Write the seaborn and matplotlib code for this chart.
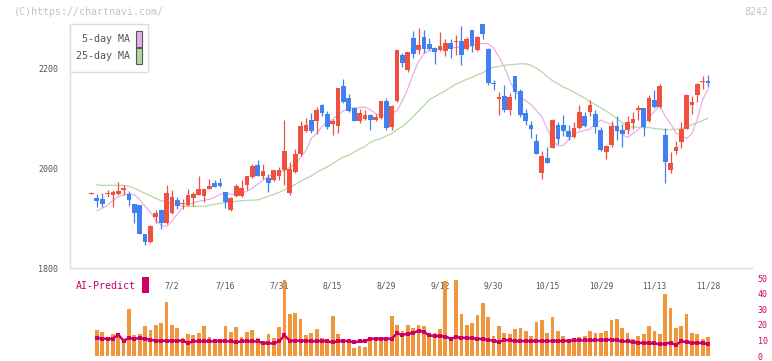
import matplotlib
matplotlib.use("Agg")
import matplotlib.pyplot as plt
from matplotlib.patches import Rectangle
import numpy as np
import seaborn as sns

# daily OHLC, index 0 = first day on screen, 115 = 11/28
opens = [1949, 1940, 1938, 1948, 1946, 1949, 1957, 1948, 1928, 1926,
         1868, 1852, 1903, 1917, 1890, 1911, 1936, 1928, 1926, 1941,
         1947, 1945, 1959, 1970, 1970, 1952, 1917, 1944, 1944, 1967,
         1983, 2006, 1985, 1981, 1976, 1984, 1996, 1950, 1993, 2028,
         2075, 2098, 2096, 2128, 2110, 2090, 2086, 2165, 2142, 2122,
         2096, 2100, 2108, 2098, 2101, 2135, 2084, 2135, 2227, 2197,
         2261, 2237, 2263, 2249, 2241, 2237, 2235, 2251, 2254, 2255,
         2239, 2277, 2237, 2289, 2240, 2172, 2140, 2145, 2117, 2185,
         2155, 2111, 2087, 2055, 1991, 2020, 2041, 2087, 2088, 2076,
         2063, 2081, 2105, 2113, 2109, 2078, 2033, 2046, 2086, 2078,
         2078, 2092, 2117, 2121, 2096, 2137, 2123, 2068, 1996, 2034,
         2054, 2080, 2127, 2147, 2174, 2175]
highs = [1952, 1948, 1950, 1956, 1956, 1973, 1966, 1954, 1929, 1927,
         1869, 1886, 1916, 1918, 1967, 1956, 1942, 1938, 1958, 1952,
         1984, 1959, 1978, 1976, 1980, 1953, 1942, 1968, 1976, 1985,
         2009, 2016, 2009, 1989, 1997, 2003, 2098, 2012, 2038, 2096,
         2102, 2112, 2123, 2130, 2116, 2099, 2162, 2179, 2150, 2123,
         2119, 2118, 2110, 2110, 2136, 2142, 2128, 2238, 2232, 2234,
         2276, 2281, 2277, 2261, 2243, 2273, 2259, 2259, 2267, 2285,
         2263, 2278, 2265, 2290, 2242, 2177, 2153, 2167, 2151, 2186,
         2159, 2119, 2095, 2069, 2034, 2042, 2099, 2093, 2108, 2088,
         2094, 2127, 2113, 2137, 2117, 2084, 2046, 2096, 2105, 2090,
         2105, 2113, 2127, 2122, 2147, 2157, 2169, 2082, 2032, 2056,
         2094, 2149, 2145, 2171, 2185, 2187]
lows = [1948, 1923, 1922, 1943, 1923, 1946, 1947, 1925, 1891, 1868,
        1847, 1850, 1891, 1878, 1889, 1909, 1919, 1919, 1925, 1925,
        1946, 1932, 1958, 1962, 1963, 1920, 1915, 1942, 1942, 1957,
        1981, 1984, 1978, 1953, 1975, 1976, 1966, 1946, 1990, 2024,
        2074, 2072, 2070, 2106, 2080, 2068, 2071, 2131, 2113, 2095,
        2091, 2097, 2078, 2096, 2100, 2078, 2078, 2134, 2203, 2194,
        2222, 2229, 2232, 2237, 2209, 2235, 2225, 2222, 2227, 2207,
        2237, 2233, 2236, 2259, 2167, 2157, 2107, 2113, 2107, 2139,
        2103, 2087, 2061, 2028, 1978, 2010, 2040, 2048, 2066, 2058,
        2062, 2080, 2083, 2105, 2071, 2034, 2019, 2043, 2058, 2043,
        2070, 2080, 2098, 2066, 2094, 2121, 2121, 1970, 1991, 2028,
        2041, 2079, 2109, 2133, 2159, 2163]
closes = [1951, 1934, 1929, 1950, 1952, 1954, 1960, 1936, 1911, 1869,
          1853, 1884, 1910, 1890, 1950, 1942, 1925, 1930, 1946, 1948,
          1958, 1958, 1964, 1963, 1964, 1933, 1940, 1964, 1960, 1984,
          2004, 1985, 1994, 1971, 1996, 1996, 2034, 1998, 2029, 2086,
          2088, 2075, 2118, 2111, 2083, 2095, 2161, 2133, 2115, 2096,
          2112, 2108, 2098, 2103, 2135, 2081, 2125, 2237, 2212, 2233,
          2229, 2247, 2239, 2239, 2234, 2245, 2251, 2240, 2256, 2227,
          2259, 2245, 2263, 2269, 2171, 2170, 2143, 2117, 2143, 2153,
          2107, 2095, 2079, 2029, 2024, 2011, 2098, 2059, 2075, 2063,
          2082, 2113, 2085, 2127, 2083, 2036, 2044, 2086, 2076, 2070,
          2094, 2100, 2121, 2084, 2141, 2123, 2165, 2013, 2010, 2042,
          2080, 2147, 2133, 2169, 2176, 2172]

# moving averages, day 1 .. 115
ma5 = [1915, 1920, 1926, 1936, 1943, 1947, 1949, 1947, 1938, 1924,
       1912, 1896, 1886, 1883, 1894, 1908, 1921, 1927, 1931, 1934,
       1936, 1938, 1942, 1948, 1950, 1948, 1948, 1951, 1954, 1960,
       1968, 1976, 1984, 1988, 1992, 1996, 2002, 2008, 2022, 2036,
       2060, 2070, 2084, 2094, 2098, 2108, 2116, 2120, 2121, 2122,
       2123, 2118, 2110, 2106, 2108, 2110, 2116, 2136, 2160, 2190,
       2214, 2231, 2236, 2238, 2239, 2240, 2242, 2243, 2244, 2245,
       2247, 2250, 2251, 2250, 2242, 2224, 2204, 2176, 2156, 2144,
       2136, 2128, 2116, 2104, 2080, 2056, 2046, 2046, 2058, 2068,
       2074, 2076, 2079, 2090, 2097, 2092, 2089, 2080, 2068, 2062,
       2070, 2078, 2088, 2104, 2114, 2127, 2105, 2090, 2071, 2066,
       2060, 2070, 2100, 2138, 2159]
ma25 = [1967, 1966, 1966, 1966, 1966, 1966, 1964, 1960, 1955, 1950,
        1945, 1940, 1935, 1932, 1930, 1927, 1924, 1924, 1924, 1924,
        1924, 1926, 1928, 1930, 1931, 1932, 1934, 1935, 1936, 1936,
        1937, 1940, 1944, 1948, 1952, 1957, 1962, 1968, 1974, 1980,
        1985, 1992, 1998, 2003, 2010, 2017, 2023, 2026, 2033, 2039,
        2044, 2052, 2057, 2060, 2065, 2070, 2078, 2084, 2094, 2104,
        2115, 2126, 2138, 2144, 2150, 2156, 2163, 2169, 2174, 2179,
        2183, 2188, 2192, 2199, 2203, 2205, 2207, 2208, 2209, 2210,
        2210, 2207, 2201, 2194, 2184, 2176, 2170, 2163, 2159, 2153,
        2147, 2141, 2134, 2128, 2122, 2115, 2108, 2100, 2092, 2085,
        2083, 2083, 2082, 2082, 2080, 2079, 2078, 2078, 2079, 2079,
        2083, 2088, 2092, 2096, 2101]

# volume and AI-Predict, day 1 .. 115
volume = [16.8, 15.7, 11.9, 14.2, 14.9, 11.1, 30.0, 13.6, 14.0, 19.3,
          16.8, 19.9, 21.2, 34.5, 19.9, 18.0, 11.7, 14.2, 13.6, 14.9,
          19.3, 12.3, 10.4, 9.8, 19.3, 15.5, 18.7, 12.3, 15.5, 16.8,
          11.7, 9.8, 14.2, 11.7, 18.7, 48.4, 26.9, 27.7, 23.7, 13.6,
          14.9, 17.4, 11.7, 11.1, 25.6, 14.2, 11.1, 9.8, 5.4, 6.6,
          6.0, 11.1, 11.1, 11.1, 11.1, 25.6, 19.9, 16.0, 20.0, 18.0,
          20.0, 19.0, 13.0, 15.0, 17.0, 48.0, 10.0, 49.0, 27.0, 20.0,
          21.0, 26.0, 34.0, 25.0, 13.0, 19.0, 15.0, 14.0, 17.0, 18.0,
          16.0, 13.0, 22.0, 23.0, 15.0, 25.0, 16.0, 13.0, 11.0, 11.0,
          12.0, 13.0, 16.0, 15.0, 15.0, 16.0, 23.0, 24.0, 18.0, 15.0,
          11.0, 13.0, 14.0, 19.0, 16.0, 14.0, 40.0, 31.0, 18.0, 19.0,
          27.0, 15.0, 14.0, 11.0, 12.0]
ai_predict = [11.7, 11.1, 11.1, 11.1, 13.6, 9.8, 11.5, 11.0, 11.5, 11.0,
              10.5, 9.8, 9.8, 9.8, 9.8, 9.8, 9.8, 8.4, 9.4, 9.4,
              9.4, 9.4, 9.4, 9.8, 9.4, 9.4, 8.8, 9.4, 9.4, 9.4,
              9.4, 8.4, 8.1, 8.1, 9.4, 13.2, 9.8, 9.8, 9.8, 9.8,
              9.4, 9.4, 9.8, 9.4, 8.8, 9.4, 9.8, 9.4, 8.8, 9.4,
              9.4, 11.1, 11.1, 11.1, 11.1, 11.1, 14.5, 13.6, 14.2, 14.9,
              16.1, 15.5, 13.2, 12.8, 12.8, 12.5, 11.1, 12.0, 11.8, 11.5,
              11.3, 11.1, 10.8, 10.3, 9.8, 9.0, 10.3, 10.0, 9.6, 9.6,
              9.6, 9.6, 9.6, 9.6, 9.6, 9.6, 9.6, 9.6, 9.8, 10.0,
              10.0, 10.0, 10.0, 10.2, 10.2, 10.4, 10.5, 10.0, 9.4, 9.4,
              9.0, 8.4, 8.4, 8.2, 8.2, 7.5, 8.0, 8.4, 7.1, 9.4,
              9.0, 8.4, 8.4, 8.4, 7.5]

date_labels = ["7/2", "7/16", "7/31", "8/15", "8/29", "9/12",
               "9/30", "10/15", "10/29", "11/13", "11/28"]
label_days = [15, 25, 35, 45, 55, 65, 75, 85, 95, 105, 115]

RED, BLUE = "#f05040", "#4080f0"
PINK, GREEN = "#e8b0e8", "#b4d8a4"
ORANGE, MAGENTA = "#f0963c", "#cc0066"

sns.set_theme(style="white")
plt.rcParams["font.family"] = ["DejaVu Sans Mono"]

W, H = 772, 361
fig = plt.figure(figsize=(W / 100, H / 100), dpi=100)


def px_box(left, top, right, bottom):
    """pixel box -> figure fraction rect"""
    return [left / W, 1 - bottom / H, (right - left) / W, (bottom - top) / H]


ax = fig.add_axes(px_box(70, 19, 752, 268))
axv = fig.add_axes(px_box(70, 278, 752, 356))
XLIM = (-4.0, 123.2)

# candles
o, h, l, c = map(np.asarray, (opens, highs, lows, closes))
days = np.arange(len(o))
col = np.where(c >= o, RED, BLUE)
ax.vlines(days, l, h, colors=col, lw=0.9, zorder=3)
body = np.maximum(np.abs(c - o), 2.2)
ax.bar(days, body, bottom=np.minimum(o, c), width=0.88, color=col,
       linewidth=0, zorder=3)

# moving averages
sns.lineplot(x=days[1:], y=ma25, ax=ax, color=GREEN, lw=0.9, zorder=2)
sns.lineplot(x=days[1:], y=ma5, ax=ax, color=PINK, lw=0.9, zorder=2)

ax.set_xlim(*XLIM)
ax.set_ylim(1800, 2300)
for side in ("top", "right"):
    ax.spines[side].set_visible(False)
for side in ("left", "bottom"):
    ax.spines[side].set_color("#dddddd")
    ax.spines[side].set_linewidth(1.0)
ax.spines["left"].set_bounds(1800, 2290)
ax.set_yticks([1800, 2000, 2200])
ax.tick_params(axis="y", length=4, width=1, color="#cccccc", pad=4.5,
               labelsize=6, labelcolor="#555555")
ax.set_xticks(np.linspace(*XLIM, 12))
ax.set_xticklabels([])
ax.tick_params(axis="x", which="major", direction="inout", length=6,
               width=1, color="#dddddd")
ax.set_xticks(label_days, minor=True)
ax.set_xticklabels(date_labels, minor=True)
ax.tick_params(axis="x", which="minor", length=0, pad=9.5, labelsize=5.8,
               labelcolor="#555555")
ax.grid(False)

# volume panel
axv.bar(days[1:], volume, width=0.7, color=ORANGE, linewidth=0)
sns.lineplot(x=days[1:], y=ai_predict, ax=axv, color=MAGENTA, lw=1.8,
             marker="s", markersize=2.6, markeredgewidth=0)
axv.set_xlim(*XLIM)
axv.set_ylim(0, 50)
axv.set_xticks([])
axv.yaxis.tick_right()
axv.set_yticks(range(0, 51, 10))
axv.tick_params(axis="y", length=0, pad=4, labelsize=6, labelcolor=MAGENTA)
for s in axv.spines.values():
    s.set_visible(False)
axv.set_facecolor("none")
axv.grid(False)

# legend box
fig.patches.append(Rectangle((70 / W, 1 - 72 / H), 78 / W, 48 / H,
                             transform=fig.transFigure, facecolor="white",
                             edgecolor="#dddddd", lw=1, zorder=5))
for label, color, yc in [("5-day MA", PINK, 39), ("25-day MA", GREEN, 56)]:
    fig.text(130 / W, 1 - yc / H, label, ha="right", va="center",
             fontsize=7.2, color="#555555", zorder=6)
    fig.patches.append(Rectangle((136 / W, 1 - (yc + 7.5) / H), 6 / W, 15 / H,
                                 transform=fig.transFigure, facecolor=color,
                                 edgecolor="#555555", lw=0.8, zorder=6))

# AI-Predict label
fig.text(76 / W, 1 - 286 / H, "AI-Predict", ha="left", va="center",
         fontsize=7.2, color=MAGENTA)
fig.patches.append(Rectangle((142 / W, 1 - 293 / H), 7 / W, 16 / H,
                             transform=fig.transFigure, facecolor=MAGENTA,
                             edgecolor="none"))

fig.text(14 / W, 1 - 12 / H, "(C)https://chartnavi.com/", ha="left",
         va="center", fontsize=7.2, color="#c4c4c4")
fig.text(768 / W, 1 - 12 / H, "8242", ha="right", va="center",
         fontsize=7.2, color="#c4c4c4")

fig.savefig("out.png", dpi=100)
